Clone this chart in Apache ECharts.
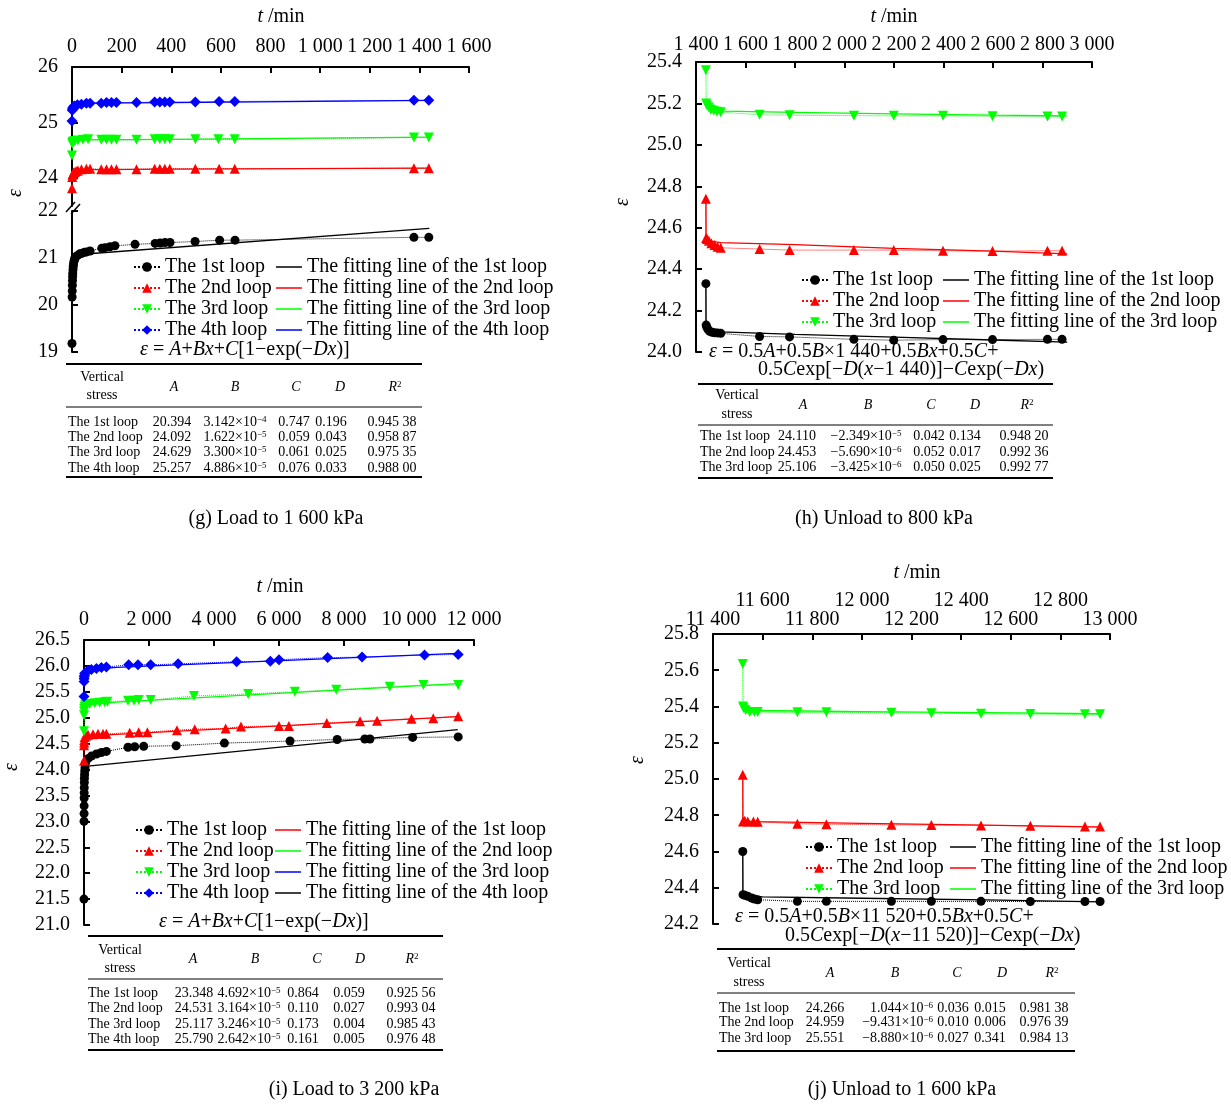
<!DOCTYPE html>
<html>
<head>
<meta charset="utf-8">
<script src="https://cdn.jsdelivr.net/npm/echarts@6/dist/echarts.min.js"></script>
<style>
  html, body { margin: 0; padding: 0; background: #ffffff; }
  .panel { position: absolute; width: 616px; height: 552px; }
</style>
</head>
<body>
<div id="pg" class="panel" style="left:0;top:0"></div>
<div id="ph" class="panel" style="left:615px;top:0"></div>
<div id="pi" class="panel" style="left:0;top:552px"></div>
<div id="pj" class="panel" style="left:615px;top:552px"></div>
<script>
const FONT = '"Liberation Serif", "Times New Roman", serif';
const BLACK = '#000000', RED = '#ff0000', GREEN = '#00ff00', BLUE = '#0000ff';

const loopNames = ['The 1st loop', 'The 2nd loop', 'The 3rd loop', 'The 4th loop'];
const fitNames = ['The fitting line of the 1st loop', 'The fitting line of the 2nd loop',
                  'The fitting line of the 3rd loop', 'The fitting line of the 4th loop'];
const tableHeads = ['{i|A}', '{i|B}', '{i|C}', '{i|D}', '{i|R}{sup|2}'];

// ---------- (g) Load to 1 600 kPa : [t (min), void ratio] ----------
const gLoop1 = [[0,19.18],[0.5,20.17],[1,20.3],[1.5,20.42],[2,20.52],[2.5,20.6],[3,20.67],[4,20.75],[5,20.82],[6,20.87],[8,20.93],[10,20.97],[12,21.0],[16,21.03],[24,21.06],[32,21.09],[40,21.1],[50,21.12],[60,21.13],[73,21.15],[120,21.21],[133,21.22],[153,21.24],[173,21.26],[254,21.29],[335,21.31],[355,21.32],[375,21.33],[395,21.33],[496,21.35],[595,21.38],[657,21.38],[1378,21.44],[1438,21.44]];
const gFit1 = [[0,20.39],[2,20.62],[4,20.8],[7,20.93],[12,21.02],[20,21.06],[40,21.08],[1440,21.63]];
const gLoop2 = [[0,23.82],[1,24.02],[2,24.06],[4,24.08],[6,24.1],[11,24.11],[17,24.13],[24,24.14],[38,24.16],[58,24.17],[73,24.17],[118,24.16],[139,24.16],[159,24.16],[179,24.16],[260,24.16],[333,24.17],[354,24.17],[374,24.17],[394,24.17],[497,24.17],[593,24.17],[656,24.17],[1378,24.18],[1438,24.18]];
const gFit2 = [[0,24.09],[5,24.11],[15,24.13],[40,24.15],[100,24.155],[400,24.162],[1440,24.18]];
const gLoop3 = [[0,24.41],[1,24.62],[2,24.64],[4,24.65],[6,24.66],[11,24.67],[24,24.68],[44,24.69],[65,24.7],[118,24.69],[139,24.69],[159,24.69],[179,24.69],[260,24.69],[333,24.7],[354,24.7],[374,24.7],[394,24.7],[497,24.7],[590,24.7],[656,24.7],[1378,24.73],[1438,24.73]];
const gFit3 = [[0,24.63],[5,24.65],[20,24.67],[60,24.69],[400,24.7],[1440,24.74]];
const gLoop4 = [[0,25.03],[1,25.22],[2,25.25],[4,25.27],[7,25.29],[11,25.3],[22,25.32],[38,25.33],[58,25.35],[73,25.35],[118,25.35],[139,25.36],[159,25.36],[179,25.36],[260,25.36],[333,25.37],[354,25.37],[374,25.37],[394,25.37],[497,25.37],[593,25.38],[656,25.38],[1378,25.4],[1438,25.4]];
const gFit4 = [[0,25.26],[5,25.29],[20,25.32],[60,25.35],[400,25.36],[1440,25.4]];
const gUpperTicks = [24, 25, 26];
const gRows = [
  ['The 1st loop', '20.394', ['3.142', '−4'], '0.747', '0.196', '0.945 38'],
  ['The 2nd loop', '24.092', ['1.622', '−5'], '0.059', '0.043', '0.958 87'],
  ['The 3rd loop', '24.629', ['3.300', '−5'], '0.061', '0.025', '0.975 35'],
  ['The 4th loop', '25.257', ['4.886', '−5'], '0.076', '0.033', '0.988 00']
];

// ---------- (h) Unload to 800 kPa ----------
const hLoop1 = [[1440,24.33],[1441,24.13],[1444,24.12],[1448,24.11],[1455,24.1],[1465,24.095],[1475,24.093],[1487,24.092],[1500,24.09],[1657,24.075],[1778,24.073],[2038,24.061],[2199,24.057],[2398,24.06],[2598,24.06],[2820,24.061],[2879,24.061]];
const hFit1 = [[1440,24.33],[1440.5,24.13],[1450,24.11],[1470,24.1],[1500,24.097],[1800,24.085],[2200,24.072],[2600,24.058],[2900,24.048]];
const hLoop2 = [[1440,24.74],[1441,24.55],[1445,24.545],[1452,24.537],[1462,24.525],[1475,24.516],[1487,24.508],[1500,24.503],[1657,24.497],[1778,24.492],[2038,24.492],[2199,24.492],[2398,24.489],[2598,24.487],[2820,24.489],[2879,24.489]];
const hFit2 = [[1440,24.74],[1440.5,24.55],[1460,24.535],[1500,24.528],[1800,24.518],[2200,24.5],[2600,24.487],[2900,24.474]];
const hLoop3 = [[1440,25.36],[1441,25.2],[1445,25.19],[1452,25.18],[1460,25.17],[1472,25.165],[1485,25.16],[1500,25.158],[1657,25.145],[1778,25.143],[2038,25.141],[2199,25.14],[2398,25.14],[2598,25.138],[2820,25.137],[2879,25.137]];
const hFit3 = [[1440,25.2],[1455,25.18],[1475,25.17],[1510,25.163],[1800,25.157],[2200,25.15],[2600,25.144],[2900,25.14]];
const hRows = [
  ['The 1st loop', '24.110', ['−2.349', '−5'], '0.042', '0.134', '0.948 20'],
  ['The 2nd loop', '24.453', ['−5.690', '−6'], '0.052', '0.017', '0.992 36'],
  ['The 3rd loop', '25.106', ['−3.425', '−6'], '0.050', '0.025', '0.992 77']
];

// ---------- (i) Load to 3 200 kPa ----------
const iLoop1 = [[0,21.5],[2,23.0],[3,23.15],[4,23.3],[5,23.45],[6,23.55],[8,23.65],[10,23.75],[13,23.83],[17,23.9],[22,23.97],[30,24.03],[43,24.12],[123,24.21],[228,24.26],[382,24.3],[535,24.33],[689,24.35],[1354,24.43],[1560,24.44],[1837,24.45],[2836,24.46],[4320,24.51],[6340,24.55],[7790,24.58],[8640,24.59],[8800,24.59],[10113,24.62],[11513,24.63]];
const iLoop2 = [[0,24.17],[2,24.47],[5,24.52],[10,24.57],[22,24.63],[60,24.65],[123,24.67],[277,24.68],[431,24.69],[585,24.69],[689,24.69],[1406,24.71],[1683,24.72],[1950,24.72],[2860,24.76],[3407,24.78],[4357,24.79],[4831,24.83],[6000,24.84],[6304,24.84],[7472,24.9],[8494,24.93],[9018,24.94],[10077,24.98],[10746,24.99],[11513,25.03]];
const iLoop3 = [[0,24.74],[2,25.05],[4,25.12],[8,25.17],[15,25.21],[43,25.245],[175,25.265],[329,25.28],[483,25.29],[637,25.3],[720,25.31],[1354,25.33],[1539,25.33],[1683,25.34],[2052,25.34],[3383,25.42],[5050,25.46],[6486,25.5],[7764,25.54],[9407,25.6],[10442,25.63],[11513,25.63]];
const iLoop4 = [[0,25.41],[2,25.7],[4,25.75],[8,25.79],[15,25.82],[22,25.86],[123,25.91],[228,25.93],[382,25.95],[535,25.97],[689,25.98],[1375,26.02],[1662,26.02],[2052,26.02],[2896,26.04],[4697,26.08],[5732,26.09],[6000,26.12],[7497,26.16],[8556,26.17],[10478,26.21],[11513,26.22]];
const iFitBlack = [[0,23.35],[5,23.7],[10,23.88],[20,24.0],[40,24.06],[100,24.08],[11500,24.77]];
const iFitRed = [[0,24.53],[20,24.6],[100,24.64],[400,24.66],[1000,24.68],[11500,25.02]];
const iFitGreen = [[0,25.12],[20,25.19],[100,25.24],[400,25.27],[1000,25.3],[11500,25.66]];
const iFitBlue = [[0,25.79],[20,25.84],[100,25.89],[400,25.94],[1000,25.97],[11500,26.24]];
const iRows = [
  ['The 1st loop', '23.348', ['4.692', '−5'], '0.864', '0.059', '0.925 56'],
  ['The 2nd loop', '24.531', ['3.164', '−5'], '0.110', '0.027', '0.993 04'],
  ['The 3rd loop', '25.117', ['3.246', '−5'], '0.173', '0.004', '0.985 43'],
  ['The 4th loop', '25.790', ['2.642', '−5'], '0.161', '0.005', '0.976 48']
];

// ---------- (j) Unload to 1 600 kPa ----------
const jLoop1 = [[11520,24.6],[11521,24.362],[11528,24.358],[11540,24.353],[11556,24.343],[11567,24.338],[11580,24.334],[11740,24.325],[11857,24.325],[12119,24.325],[12280,24.325],[12480,24.325],[12679,24.324],[12899,24.324],[12960,24.324]];
const jFit1 = [[11520,24.6],[11520.5,24.36],[11560,24.353],[11600,24.35],[12000,24.342],[12500,24.333],[12960,24.322]];
const jLoop2 = [[11520,25.023],[11521,24.766],[11528,24.77],[11540,24.766],[11563,24.766],[11580,24.764],[11740,24.753],[11857,24.751],[12119,24.747],[12280,24.746],[12480,24.744],[12679,24.742],[12899,24.738],[12960,24.738]];
const jFit2 = [[11520,25.023],[11520.5,24.768],[11580,24.765],[12000,24.755],[12500,24.746],[12960,24.735]];
const jLoop3 = [[11520,25.635],[11521,25.4],[11524,25.39],[11532,25.38],[11548,25.37],[11567,25.37],[11580,25.37],[11740,25.368],[11857,25.368],[12119,25.366],[12280,25.363],[12480,25.36],[12679,25.359],[12899,25.357],[12960,25.357]];
const jFit3 = [[11520,25.4],[11540,25.385],[11580,25.378],[12000,25.372],[12500,25.366],[12960,25.36]];
// time tick labels set on two staggered rows
const jTicksLow = [11400, 11800, 12200, 12600, 13000];
const jTicksHigh = [11600, 12000, 12400, 12800];
const jRows = [
  ['The 1st loop', '24.266', ['1.044', '−6'], '0.036', '0.015', '0.981 38'],
  ['The 2nd loop', '24.959', ['−9.431', '−6'], '0.010', '0.006', '0.976 39'],
  ['The 3rd loop', '25.551', ['−8.880', '−6'], '0.027', '0.341', '0.984 13']
];

// ---------- formulas and captions ----------
const formulaLoad = '{i|ε} = {i|A}+{i|B}{i|x}+{i|C}[1−exp(−{i|D}{i|x})]';
const formulaH = ['{i|ε} = 0.5{i|A}+0.5{i|B}×1 440+0.5{i|B}{i|x}+0.5{i|C}+',
                  '0.5{i|C}exp[−{i|D}({i|x}−1 440)]−{i|C}exp(−{i|D}{i|x})'];
const formulaJ = ['{i|ε} = 0.5{i|A}+0.5{i|B}×11 520+0.5{i|B}{i|x}+0.5{i|C}+',
                  '0.5{i|C}exp[−{i|D}({i|x}−11 520)]−{i|C}exp(−{i|D}{i|x})'];
const captions = ['(g) Load to 1 600 kPa', '(h) Unload to 800 kPa', '(i) Load to 3 200 kPa', '(j) Unload to 1 600 kPa'];

// ---------- helpers ----------
const markers = [
  { symbol: 'circle', size: 9, rotate: 0 },
  { symbol: 'triangle', size: 10, rotate: 0 },
  { symbol: 'triangle', size: 10, rotate: 180 },
  { symbol: 'diamond', size: 11, rotate: 0 }
];
const loopColors = [BLACK, RED, GREEN, BLUE];

function fmtT(v) {
  const s = String(Math.round(v));
  return s.length > 3 ? s.replace(/\B(?=(\d{3})+(?!\d))/g, ' ') : s;
}
function fmtInt(v) { return String(Math.round(v)); }
function fmt1(v) { return v.toFixed(1); }

function loopSeries(k, data, xi, yi) {
  const m = markers[k];
  return {
    type: 'line', name: loopNames[k], data, xAxisIndex: xi, yAxisIndex: yi,
    symbol: m.symbol, symbolSize: m.size, symbolRotate: m.rotate, showSymbol: true,
    clip: false, z: 3, emphasis: { disabled: true },
    lineStyle: { color: loopColors[k], width: 1, type: 'dotted' },
    itemStyle: { color: loopColors[k] }
  };
}
function fitSeries(name, color, data, xi, yi) {
  return {
    type: 'line', name, data, xAxisIndex: xi, yAxisIndex: yi, symbol: 'none',
    clip: false, z: 2, emphasis: { disabled: true },
    lineStyle: { color, width: 1.3, type: 'solid' }, itemStyle: { color }
  };
}
function xTop(gridIndex, min, max, interval, formatter, margin, show, extra) {
  return {
    type: 'value', gridIndex, position: 'top', min, max, interval, show: show !== false,
    axisLine: { show: true, onZero: false, lineStyle: { color: '#000', width: 2 } },
    axisTick: { show: true, inside: true, length: 6, lineStyle: { color: '#000', width: 2 } },
    axisLabel: Object.assign({ margin, color: '#000', fontFamily: FONT, fontSize: 20, formatter,
      hideOverlap: false, showMinLabel: true, showMaxLabel: true }, extra || {}),
    splitLine: { show: false }
  };
}
function yLeft(gridIndex, min, max, interval, formatter, custom) {
  const ax = {
    type: 'value', gridIndex, min, max, scale: true,
    axisLine: { show: true, onZero: false, lineStyle: { color: '#000', width: 2 } },
    axisTick: { show: true, inside: true, length: 6, lineStyle: { color: '#000', width: 2 } },
    axisLabel: { margin: 14, color: '#000', fontFamily: FONT, fontSize: 20, formatter, showMinLabel: true, showMaxLabel: true },
    splitLine: { show: false }
  };
  if (interval) ax.interval = interval;
  if (custom) { ax.axisTick.customValues = custom; ax.axisLabel.customValues = custom; }
  return ax;
}
function legendBox(left, top, names, plainLine) {
  const lg = {
    orient: 'vertical', left, top, padding: 0, itemWidth: 26, itemHeight: 12, itemGap: 1,
    selectedMode: false, data: names,
    textStyle: { fontFamily: FONT, fontSize: 20, color: '#000' }
  };
  if (plainLine) { lg.icon = 'rect'; lg.itemHeight = 1.5; }
  return lg;
}
function rich(size) {
  return {
    i: { fontFamily: FONT, fontSize: size, fontStyle: 'italic', fill: '#000', color: '#000' },
    sup: { fontFamily: FONT, fontSize: Math.round(size * 0.62), verticalAlign: 'top', fill: '#000', color: '#000' }
  };
}
function txt(x, y, text, o) {
  o = o || {};
  const size = o.size || 20;
  const align = o.align || 'left';
  return {
    type: 'text', x, y, rotation: o.rotation || 0, silent: true,
    style: {
      text, fill: '#000', fontFamily: FONT, fontSize: size,
      fontStyle: o.italic ? 'italic' : 'normal',
      align, verticalAlign: 'middle', textAlign: align, textVerticalAlign: 'middle',
      rich: rich(size)
    }
  };
}
function hline(x1, x2, y, w) {
  return { type: 'line', silent: true, shape: { x1, y1: y, x2, y2: y }, style: { stroke: '#000', lineWidth: w } };
}
function seg(x1, y1, x2, y2, w) {
  return { type: 'line', silent: true, shape: { x1, y1, x2, y2 }, style: { stroke: '#000', lineWidth: w } };
}
function table(rows, L) {
  const els = [hline(L.left, L.right, L.top, 2), hline(L.left, L.right, L.hdrRule, 1), hline(L.left, L.right, L.bottom, 2)];
  els.push(txt(L.vsX, L.hdrY1, 'Vertical', { size: 14, align: 'center' }));
  els.push(txt(L.vsX, L.hdrY2, 'stress', { size: 14, align: 'center' }));
  tableHeads.forEach((h, k) => els.push(txt(L.hdrX[k], L.hdrMid, h, { size: 14, align: 'center' })));
  rows.forEach((r, j) => {
    const y = L.rowY[j];
    els.push(txt(L.labelX, y, r[0], { size: 14 }));
    els.push(txt(L.valX[0], y, r[1], { size: 14, align: 'center' }));
    els.push(txt(L.valX[1], y, r[2][0] + '×10{sup|' + r[2][1] + '}', { size: 14, align: L.bAlign || 'center' }));
    els.push(txt(L.valX[2], y, r[3], { size: 14, align: 'center' }));
    els.push(txt(L.valX[3], y, r[4], { size: 14, align: 'center' }));
    els.push(txt(L.valX[4], y, r[5], { size: 14, align: 'center' }));
  });
  return els;
}
function axisTitles(tx, ty, ex, ey) {
  return [
    txt(tx, ty, '{i|t} /min', { align: 'center' }),
    txt(ex, ey, 'ε', { align: 'center', italic: true, rotation: Math.PI / 2 })
  ];
}
function mount(id, option) {
  const chart = echarts.init(document.getElementById(id), null, { renderer: 'canvas' });
  chart.setOption(option);
}

// ---------- (g) ----------
mount('pg', {
  animation: false,
  grid: [{ left: 72, top: 67, width: 397, height: 139 }, { left: 72, top: 211, width: 397, height: 141 }],
  xAxis: [xTop(0, 0, 1600, 200, fmtT, 10), xTop(1, 0, 1600, 200, fmtT, 10, false)],
  yAxis: [yLeft(0, 23.5, 26, null, fmtInt, gUpperTicks), yLeft(1, 19, 22, 1, fmtInt)],
  legend: [legendBox(133, 257, loopNames), legendBox(276, 257, fitNames, true)],
  series: [
    fitSeries(fitNames[0], BLACK, gFit1, 1, 1),
    fitSeries(fitNames[1], RED, gFit2, 0, 0),
    fitSeries(fitNames[2], GREEN, gFit3, 0, 0),
    fitSeries(fitNames[3], BLUE, gFit4, 0, 0),
    loopSeries(0, gLoop1, 1, 1),
    loopSeries(1, gLoop2, 0, 0),
    loopSeries(2, gLoop3, 0, 0),
    loopSeries(3, gLoop4, 0, 0)
  ],
  graphic: { elements: [].concat(
    axisTitles(281, 17, 16, 193),
    [seg(66, 212, 75, 202, 1.5), seg(71, 214, 80, 204, 1.5)],
    [txt(140, 350, formulaLoad)],
    table(gRows, { left: 66, right: 422, top: 364, hdrRule: 407, bottom: 477, vsX: 102, hdrY1: 377, hdrY2: 395, hdrMid: 387,
      rowY: [422, 437, 452, 468], labelX: 68, hdrX: [174, 235, 296, 340, 395], valX: [172, 235, 294, 331, 392] }),
    [txt(276, 519, captions[0], { align: 'center' })]
  ) }
});

// ---------- (h) ----------
mount('ph', {
  animation: false,
  grid: [{ left: 81, top: 62, width: 396, height: 290 }],
  xAxis: [xTop(0, 1400, 3000, 200, fmtT, 7)],
  yAxis: [yLeft(0, 24, 25.4, 0.2, fmt1)],
  legend: [legendBox(186, 270, loopNames.slice(0, 3)), legendBox(328, 270, fitNames.slice(0, 3), true)],
  series: [
    fitSeries(fitNames[0], BLACK, hFit1, 0, 0),
    fitSeries(fitNames[1], RED, hFit2, 0, 0),
    fitSeries(fitNames[2], GREEN, hFit3, 0, 0),
    loopSeries(0, hLoop1, 0, 0),
    loopSeries(1, hLoop2, 0, 0),
    loopSeries(2, hLoop3, 0, 0)
  ],
  graphic: { elements: [].concat(
    axisTitles(279, 17, 8, 202),
    [txt(94, 352, formulaH[0]), txt(143, 370, formulaH[1])],
    table(hRows, { left: 83, right: 438, top: 384, hdrRule: 425, bottom: 478, vsX: 122, hdrY1: 395, hdrY2: 414, hdrMid: 405,
      rowY: [436, 452, 467], labelX: 85, hdrX: [188, 253, 316, 360, 412], valX: [182, 251, 314, 350, 409] }),
    [txt(269, 519, captions[1], { align: 'center' })]
  ) }
});

// ---------- (i) ----------
mount('pi', {
  animation: false,
  grid: [{ left: 84, top: 88, width: 390, height: 285 }],
  xAxis: [xTop(0, 0, 12000, 2000, fmtT, 10)],
  yAxis: [yLeft(0, 21, 26.5, 0.5, fmt1)],
  legend: [legendBox(135, 268, loopNames), legendBox(275, 268, fitNames, true)],
  series: [
    fitSeries(fitNames[0], RED, iFitRed, 0, 0),
    fitSeries(fitNames[1], GREEN, iFitGreen, 0, 0),
    fitSeries(fitNames[2], BLUE, iFitBlue, 0, 0),
    fitSeries(fitNames[3], BLACK, iFitBlack, 0, 0),
    loopSeries(0, iLoop1, 0, 0),
    loopSeries(1, iLoop2, 0, 0),
    loopSeries(2, iLoop3, 0, 0),
    loopSeries(3, iLoop4, 0, 0)
  ],
  graphic: { elements: [].concat(
    axisTitles(280, 35, 12, 215),
    [txt(159, 370, formulaLoad)],
    table(iRows, { left: 88, right: 443, top: 384, hdrRule: 427, bottom: 498, vsX: 120, hdrY1: 398, hdrY2: 416, hdrMid: 407,
      rowY: [441, 456, 472, 487], labelX: 88, hdrX: [193, 255, 317, 360, 412], valX: [194, 249, 303, 349, 411] }),
    [txt(354, 538, captions[2], { align: 'center' })]
  ) }
});

// ---------- (j) ----------
const jAxisLow = xTop(0, 11400, 13000, 200, fmtT, 4);
jAxisLow.axisLabel.customValues = jTicksLow;
const jAxisHigh = xTop(0, 11400, 13000, 200, fmtT, 23);
jAxisHigh.axisLabel.customValues = jTicksHigh;
jAxisHigh.axisLine.show = false;
jAxisHigh.axisTick.show = false;
mount('pj', {
  animation: false,
  grid: [{ left: 98, top: 82, width: 397, height: 290 }],
  xAxis: [jAxisLow, jAxisHigh],
  yAxis: [yLeft(0, 24.2, 25.8, 0.2, fmt1)],
  legend: [legendBox(190, 285, loopNames.slice(0, 3)), legendBox(335, 285, fitNames.slice(0, 3), true)],
  series: [
    fitSeries(fitNames[0], BLACK, jFit1, 0, 0),
    fitSeries(fitNames[1], RED, jFit2, 0, 0),
    fitSeries(fitNames[2], GREEN, jFit3, 0, 0),
    loopSeries(0, jLoop1, 0, 0),
    loopSeries(1, jLoop2, 0, 0),
    loopSeries(2, jLoop3, 0, 0)
  ],
  graphic: { elements: [].concat(
    axisTitles(302, 21, 23, 208),
    [txt(120, 365, formulaJ[0]), txt(170, 384, formulaJ[1])],
    table(jRows, { left: 102, right: 460, top: 397, hdrRule: 441, bottom: 499, vsX: 134, hdrY1: 411, hdrY2: 430, hdrMid: 421,
      rowY: [456, 470, 486], labelX: 104, hdrX: [215, 280, 342, 387, 437], valX: [210, 318, 338, 375, 429], bAlign: 'right' }),
    [txt(287, 538, captions[3], { align: 'center' })]
  ) }
});
</script>
</body>
</html>
